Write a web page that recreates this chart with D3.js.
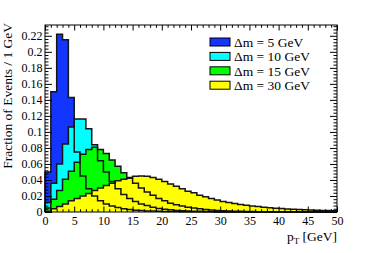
<!DOCTYPE html>
<html lang="en">
  <head>
    <meta charset="utf-8">
    <title>pT spectra</title>
    <script type="text/javascript" src="https://cdn.jsdelivr.net/npm/d3@7"></script>
    <style>
      body { margin: 0; background: white; }
    </style>
  </head>
  <body>
    <script type="text/javascript">
      var w = 374;
      var h = 253;

      // fraction of events per 1 GeV bin, pT from 0 to 50
      var dm5 = [0.050, 0.150, 0.222, 0.215, 0.143, 0.075, 0.045, 0.029, 0.020, 0.014,
                 0.010, 0.0075, 0.0055, 0.004, 0.003, 0.0023, 0.0018, 0.0014, 0.0011, 0.0009,
                 0.0007, 0.0006, 0.0005, 0.0004, 0.0003, 0.0003, 0.0002, 0.0002, 0.0002, 0.0001,
                 0.0001, 0.0001, 0.0001, 0.0001, 0.0001, 0, 0, 0, 0, 0,
                 0, 0, 0, 0, 0, 0, 0, 0, 0, 0];
      var dm10 = [0.012, 0.036, 0.060, 0.085, 0.106, 0.116, 0.116, 0.104, 0.084, 0.064,
                  0.050, 0.038, 0.029, 0.022, 0.017, 0.013, 0.010, 0.008, 0.006, 0.0045,
                  0.0035, 0.0027, 0.002, 0.0016, 0.0012, 0.001, 0.0008, 0.0006, 0.0005, 0.0004,
                  0.0003, 0.0003, 0.0002, 0.0002, 0.0001, 0.0001, 0.0001, 0.0001, 0, 0,
                  0, 0, 0, 0, 0, 0, 0, 0, 0, 0];
      var dm15 = [0.005, 0.016, 0.027, 0.041, 0.051, 0.062, 0.072, 0.078, 0.081, 0.078,
                  0.073, 0.065, 0.057, 0.049, 0.042, 0.036, 0.030, 0.025, 0.021, 0.017,
                  0.014, 0.011, 0.009, 0.0075, 0.006, 0.005, 0.004, 0.0032, 0.0026, 0.002,
                  0.0016, 0.0013, 0.001, 0.0008, 0.0006, 0.0005, 0.0004, 0.0003, 0.0003, 0.0002,
                  0.0002, 0.0001, 0.0001, 0.0001, 0.0001, 0, 0, 0, 0, 0];
      var dm30 = [0.001, 0.004, 0.007, 0.010, 0.014, 0.017, 0.020, 0.023, 0.027, 0.030,
                  0.033, 0.036, 0.039, 0.041, 0.043, 0.0445, 0.045, 0.0445, 0.043, 0.041,
                  0.038, 0.035, 0.032, 0.029, 0.026, 0.024, 0.021, 0.019, 0.017, 0.015,
                  0.013, 0.0118, 0.0105, 0.0095, 0.0085, 0.0076, 0.0068, 0.006, 0.0054, 0.0048,
                  0.0043, 0.0039, 0.0035, 0.0031, 0.0028, 0.0025, 0.0022, 0.002, 0.0018, 0.0015];

      var seriesNames = ["\u0394m = 5 GeV", "\u0394m = 10 GeV", "\u0394m = 15 GeV", "\u0394m = 30 GeV"];
      var seriesColors = ["#1434ff", "#00ffff", "#00ff00", "#ffff00"];
      var xTicks = [0, 5, 10, 15, 20, 25, 30, 35, 40, 45, 50];
      var yTicks = [0, 0.02, 0.04, 0.06, 0.08, 0.1, 0.12, 0.14, 0.16, 0.18, 0.2, 0.22];

      var frameL = 45, frameR = 337, frameT = 25, frameB = 212;

      var svg = d3.select("body")
                  .append("svg")
                  .attr("width", w)
                  .attr("height", h);

      var xScale = d3.scaleLinear().domain([0, 50]).range([frameL, frameR]);
      var yScale = d3.scaleLinear().domain([0, 0.2335]).range([frameB, frameT]);

      // step points with a closing point at the right edge of the last bin
      var toSteps = function (vals) {
        var pts = vals.map(function (v, i) { return [i, v]; });
        pts.push([vals.length, vals[vals.length - 1]]);
        return pts;
      };

      var area = d3.area()
                   .curve(d3.curveStepAfter)
                   .x(function (d) { return xScale(d[0]); })
                   .y0(yScale(0))
                   .y1(function (d) { return yScale(d[1]); });

      var outline = function (vals) {
        var pts = toSteps(vals);
        var p = d3.path();
        p.moveTo(xScale(0), yScale(0));
        pts.forEach(function (d, i) {
          if (i > 0) p.lineTo(xScale(d[0]), yScale(pts[i - 1][1]));
          p.lineTo(xScale(d[0]), yScale(d[1]));
        });
        p.lineTo(xScale(pts[pts.length - 1][0]), yScale(0));
        return p.toString();
      };

      var allSeries = [dm5, dm10, dm15, dm30];

      svg.selectAll("path.fill")
         .data(allSeries)
         .enter()
         .append("path")
         .attr("class", "fill")
         .attr("d", function (d) { return area(toSteps(d)); })
         .attr("fill", function (d, i) { return seriesColors[i]; });

      svg.selectAll("path.line")
         .data(allSeries)
         .enter()
         .append("path")
         .attr("class", "line")
         .attr("d", outline)
         .attr("fill", "none")
         .attr("stroke", "#151515")
         .attr("stroke-width", 1.5)
         .attr("stroke-linejoin", "miter");

      // frame
      svg.append("rect")
         .attr("x", frameL)
         .attr("y", frameT)
         .attr("width", frameR - frameL)
         .attr("height", frameB - frameT)
         .attr("fill", "none")
         .attr("stroke", "black")
         .attr("stroke-width", 1);

      var font = "'Liberation Serif', 'DejaVu Serif', serif";
      var xMinor = d3.range(0, 51).filter(function (v) { return v % 5 !== 0; });
      var yMinor = d3.range(0, 59).map(function (i) { return i * 0.004; })
                     .filter(function (v) { return Math.abs(v / 0.02 - Math.round(v / 0.02)) > 1e-6 && v < 0.2335; });

      var fmtY = function (d) { return d === 0 ? "0" : String(+d.toFixed(2)); };

      // bottom axis with labels
      svg.append("g")
         .attr("transform", "translate(0," + frameB + ")")
         .call(d3.axisBottom(xScale).tickValues(xTicks).tickSizeInner(-5.5).tickSizeOuter(0).tickPadding(4));
      svg.append("g")
         .attr("transform", "translate(0," + frameB + ")")
         .call(d3.axisBottom(xScale).tickValues(xMinor).tickSizeInner(-2.8).tickSizeOuter(0).tickFormat(""));
      // top axis, ticks only
      svg.append("g")
         .attr("transform", "translate(0," + frameT + ")")
         .call(d3.axisTop(xScale).tickValues(xTicks).tickSizeInner(-5.5).tickSizeOuter(0).tickFormat(""));
      svg.append("g")
         .attr("transform", "translate(0," + frameT + ")")
         .call(d3.axisTop(xScale).tickValues(xMinor).tickSizeInner(-2.8).tickSizeOuter(0).tickFormat(""));

      // left axis with labels
      svg.append("g")
         .attr("transform", "translate(" + frameL + ",0)")
         .call(d3.axisLeft(yScale).tickValues(yTicks).tickFormat(fmtY).tickSizeInner(-7).tickSizeOuter(0).tickPadding(2.5));
      svg.append("g")
         .attr("transform", "translate(" + frameL + ",0)")
         .call(d3.axisLeft(yScale).tickValues(yMinor).tickSizeInner(-3.5).tickSizeOuter(0).tickFormat(""));
      // right axis, ticks only
      svg.append("g")
         .attr("transform", "translate(" + frameR + ",0)")
         .call(d3.axisRight(yScale).tickValues(yTicks).tickSizeInner(-7).tickSizeOuter(0).tickFormat(""));
      svg.append("g")
         .attr("transform", "translate(" + frameR + ",0)")
         .call(d3.axisRight(yScale).tickValues(yMinor).tickSizeInner(-3.5).tickSizeOuter(0).tickFormat(""));

      svg.selectAll(".domain").remove();
      svg.selectAll(".tick line").attr("stroke", "black");
      svg.selectAll(".tick text")
         .attr("font-family", font)
         .attr("font-size", "12px")
         .attr("fill", "black");

      // axis titles
      svg.append("text")
         .attr("transform", "translate(11.5," + (frameT - 2) + ") rotate(-90)")
         .attr("text-anchor", "end")
         .attr("font-family", font)
         .attr("font-size", "13.5px")
         .text("Fraction of Events / 1 GeV");

      var xt = svg.append("text")
         .attr("x", frameR)
         .attr("y", 241)
         .attr("text-anchor", "end")
         .attr("font-family", font)
         .attr("font-size", "13.5px");
      xt.append("tspan").text("p");
      xt.append("tspan").attr("font-size", "9px").attr("dy", 3).text("T");
      xt.append("tspan").attr("dy", -3).text(" [GeV]");

      // legend
      var legend = svg.append("g").attr("transform", "translate(210,38)");
      var rows = legend.selectAll("g")
                       .data(seriesNames)
                       .enter()
                       .append("g")
                       .attr("transform", function (d, i) { return "translate(0," + (i * 14.4) + ")"; });
      rows.append("rect")
          .attr("width", 20)
          .attr("height", 8)
          .attr("fill", function (d, i) { return seriesColors[i]; })
          .attr("stroke", "black")
          .attr("stroke-width", 1);
      rows.append("text")
          .attr("x", 24)
          .attr("y", 8.8)
          .attr("font-family", font)
          .attr("font-size", "13.5px")
          .text(function (d) { return d; });
    </script>
  </body>
</html>
